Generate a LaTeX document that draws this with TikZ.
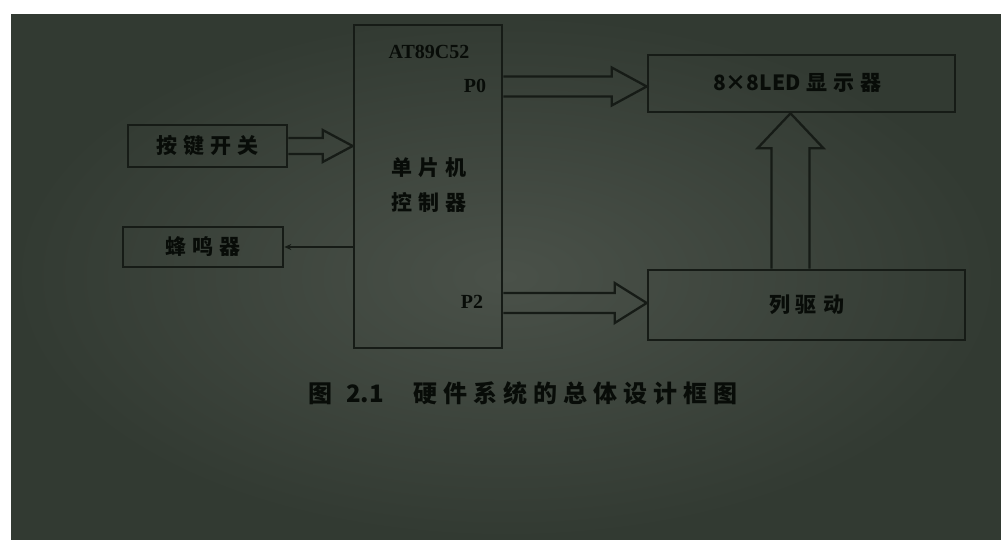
\documentclass[tikz,border=0pt]{standalone}
\usepackage{fontspec}
\setmainfont{Liberation Serif}
\newfontfamily\cjk{Noto Sans CJK SC}
\usetikzlibrary{calc,arrows.meta}
\definecolor{bgc}{RGB}{74,81,73}
\definecolor{bgd}{RGB}{50,58,50}
\definecolor{ink}{RGB}{22,27,22}
\definecolor{tink}{RGB}{8,12,8}
\newcommand\mygap{\hspace{6pt}}
\tikzset{
  blk/.style={draw=ink, line width=2.6pt, inner sep=0pt},
  hol/.style={draw=ink, line width=2.3pt, line join=miter},
  lbl/.style={text=tink, font=\cjk\bfseries\fontsize{21}{21}\selectfont, inner sep=0pt},
  lat/.style={text=tink, font=\bfseries\fontsize{20}{20}\selectfont, inner sep=0pt},
}
\begin{document}
\begin{tikzpicture}[x=1pt,y=-1pt]
\useasboundingbox (0,0) rectangle (1001,539);
\fill[white] (0,0) rectangle (1001,539);
\fill[bgd] (11,14) rectangle (1001,539);
\begin{scope}
\shade[inner color=bgc, outer color=bgd] (11,14) rectangle (1001,539);
\end{scope}

% blocks
\node[blk, minimum width=148pt, minimum height=323pt] (mcu) at (428,186.5) {};
\node[blk, minimum width=159pt, minimum height=42pt] (key) at (207.5,146) {};
\node[blk, minimum width=160pt, minimum height=40pt] (buz) at (203,247) {};
\node[blk, minimum width=307pt, minimum height=57pt] (disp) at (801.5,83.5) {};
\node[blk, minimum width=317pt, minimum height=70pt] (col) at (806.5,305) {};

% labels
\node[lat] (chip) at (429,52) {AT89C52};
\node[lat] (p0) at (475,86) {P0};
\node[lat] (p2) at (472,302) {P2};
\node[lbl] (m1) at (429,168) {单\mygap 片\mygap 机};
\node[lbl] (m2) at (429,202) {控\mygap 制\mygap 器};
\node[lbl] (keyt) at (key.center) {按\mygap 键\mygap 开\mygap 关};
\node[lbl] (buzt) at (buz.center) {蜂\mygap 鸣\mygap 器};
\node[lbl] (dispt) at ($(disp.center)+(-4,-1)$) {8×8LED\mygap 显\mygap 示\mygap 器};
\node[lbl] (colt) at (col.center) {列\mygap 驱\mygap 动};

% hollow arrow key -> mcu
\coordinate (t1) at (mcu.west |- key.east);
\draw[hol] ($(key.east)+(0,-8)$) -- ($(t1)+(-30,-8)$) -- ($(t1)+(-30,-16)$) -- (t1)
  -- ($(t1)+(-30,16)$) -- ($(t1)+(-30,8)$) -- ($(key.east)+(0,8)$);

% buzzer line
\draw[ink, line width=1.6pt, -{Stealth[length=7pt,width=6pt]}] (mcu.west |- buz.east) -- (buz.east);

% P0 hollow arrow
\coordinate (t2) at ($(disp.west)+(0,3)$);
\coordinate (s2) at (mcu.east |- t2);
\draw[hol] ($(s2)+(0,-10)$) -- ($(t2)+(-35,-10)$) -- ($(t2)+(-35,-19)$) -- (t2)
  -- ($(t2)+(-35,19)$) -- ($(t2)+(-35,10)$) -- ($(s2)+(0,10)$);

% P2 hollow arrow
\coordinate (t3) at ($(col.west)+(0,-2)$);
\coordinate (s3) at (mcu.east |- t3);
\draw[hol] ($(s3)+(0,-10)$) -- ($(t3)+(-32,-10)$) -- ($(t3)+(-32,-20)$) -- (t3)
  -- ($(t3)+(-32,20)$) -- ($(t3)+(-32,10)$) -- ($(s3)+(0,10)$);

% vertical hollow arrow col -> disp
\coordinate (s4) at ($(col.north)+(-16,0)$);
\coordinate (t4) at (s4 |- disp.south);
\draw[hol] ($(s4)+(-19,0)$) -- ($(t4)+(-19,35)$) -- ($(t4)+(-33,35)$) -- (t4)
  -- ($(t4)+(33,35)$) -- ($(t4)+(19,35)$) -- ($(s4)+(19,0)$);

% caption
\node[text=tink, font=\cjk\bfseries\fontsize{24}{24}\selectfont, inner sep=0pt, anchor=west] (cap) at (308,393)
  {图\hspace{14pt}2.1\hspace{30pt}硬\mygap 件\mygap 系\mygap 统\mygap 的\mygap 总\mygap 体\mygap 设\mygap 计\mygap 框\mygap 图};
\end{tikzpicture}
\end{document}
